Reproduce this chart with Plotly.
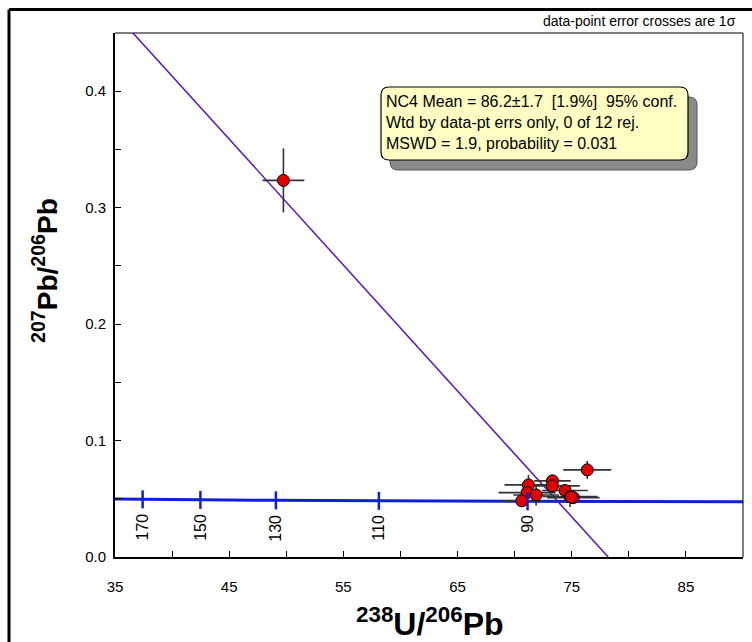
import plotly.graph_objects as go

# ---------------- data ----------------
u238_pb206 = [49.75, 76.36, 71.21, 73.31, 73.31, 71.09, 71.88, 70.62, 74.41, 74.85, 75.14, 74.95]
u238_err   = [1.83, 2.10, 2.10, 1.60, 2.40, 2.50, 2.00, 1.80, 2.00, 2.40, 2.30, 2.00]
pb207_pb206 = [0.3234, 0.0748, 0.0619, 0.0654, 0.0611, 0.0553, 0.0533, 0.0482, 0.0571, 0.0519, 0.0510, 0.0514]
pb207_err   = [0.0275, 0.0077, 0.0086, 0.0040, 0.0040, 0.0050, 0.0090, 0.0050, 0.0040, 0.0090, 0.0050, 0.0050]

# concordia curve (Tera-Wasserburg) points
concordia_x = [35.0, 37.42, 42.48, 49.09, 58.11, 71.13, 90.0]
concordia_y = [0.04971, 0.04947, 0.04904, 0.04863, 0.04822, 0.04781, 0.04743]
# age ticks on the concordia
tick_ages = [170, 150, 130, 110, 90]
tick_x = [37.42, 42.48, 49.09, 58.11, 71.13]
tick_y = [0.04947, 0.04904, 0.04863, 0.04822, 0.04781]

# regression (discordia) line end points
discordia_x = [36.57, 78.19]
discordia_y = [0.45, 0.0]

NB = "\u00a0"
info_lines = [
    f"NC4 Mean = 86.2±1.7 {NB}[1.9%] {NB}95% conf.",
    "Wtd by data-pt errs only, 0 of 12 rej.",
    "MSWD = 1.9, probability = 0.031",
]

# ---------------- figure ----------------
W, H = 752, 642
L, R, T, B = 115, 9, 33, 85
PW, PH = W - L - R, H - T - B

def px(x):
    return (x - L) / PW

def py(y):
    return (H - B - y) / PH

FONT = "Arial, Liberation Sans, sans-serif"
BLUE = "#1020D8"
PURPLE = "#5814BE"

fig = go.Figure()

fig.add_trace(go.Scatter(x=concordia_x, y=concordia_y, mode="lines",
                         line=dict(color=BLUE, width=3), hoverinfo="skip",
                         showlegend=False))
fig.add_trace(go.Scatter(x=discordia_x, y=discordia_y, mode="lines",
                         line=dict(color=PURPLE, width=1.5), hoverinfo="skip",
                         showlegend=False))
fig.add_trace(go.Scatter(
    x=u238_pb206, y=pb207_pb206, mode="markers",
    marker=dict(size=12, color="#E00000", line=dict(color="black", width=1)),
    error_x=dict(type="data", array=u238_err, color="#333333", thickness=1.6, width=0),
    error_y=dict(type="data", array=pb207_err, color="#333333", thickness=1.6, width=0),
    showlegend=False))

shapes = []
annotations = []

# concordia age ticks and labels
for a, x, y in zip(tick_ages, tick_x, tick_y):
    shapes.append(dict(type="line", xref="x", yref="y", ysizemode="pixel",
                       yanchor=y, x0=x, x1=x, y0=-9, y1=9,
                       line=dict(color=BLUE, width=2.5)))
    annotations.append(dict(x=x, y=y, xref="x", yref="y", text=str(a),
                            showarrow=False, textangle=-90, yanchor="top",
                            xanchor="center", yshift=-12,
                            font=dict(family=FONT, size=16, color="black")))

# plot frame (thin) on top/right
shapes.append(dict(type="line", xref="paper", yref="paper", x0=0, x1=1, y0=1, y1=1,
                   line=dict(color="black", width=1), layer="above"))
shapes.append(dict(type="line", xref="paper", yref="paper", x0=1, x1=1, y0=0, y1=1,
                   line=dict(color="black", width=1), layer="above"))

# outer thick frame: only its left and top edges fall inside the picture
shapes.append(dict(type="line", xref="paper", yref="paper",
                   x0=px(9), x1=px(760), y0=py(9.5), y1=py(9.5),
                   line=dict(color="black", width=3)))
shapes.append(dict(type="line", xref="paper", yref="paper",
                   x0=px(9), x1=px(9), y0=py(9.5), y1=py(660),
                   line=dict(color="black", width=3)))

# info box with shadow
def rounded(x0, y0, x1, y1, r):
    X0, X1 = px(x0), px(x1)
    Y0, Y1 = py(y0), py(y1)   # Y0 top, Y1 bottom
    rx, ry = r / PW, r / PH
    return (f"M {X0+rx},{Y0} L {X1-rx},{Y0} Q {X1},{Y0} {X1},{Y0-ry} "
            f"L {X1},{Y1+ry} Q {X1},{Y1} {X1-rx},{Y1} "
            f"L {X0+rx},{Y1} Q {X0},{Y1} {X0},{Y1+ry} "
            f"L {X0},{Y0-ry} Q {X0},{Y0} {X0+rx},{Y0} Z")

bx0, by0, bx1, by1 = 381, 87, 688, 160
shapes.append(dict(type="path", xref="paper", yref="paper",
                   path=rounded(bx0 + 9, by0 + 10, bx1 + 9, by1 + 10, 8),
                   fillcolor="#8A8A8A", line=dict(color="#555555", width=1),
                   layer="above"))
shapes.append(dict(type="path", xref="paper", yref="paper",
                   path=rounded(bx0, by0, bx1, by1, 8),
                   fillcolor="#FFFFC4", line=dict(color="black", width=1.2),
                   layer="above"))

for i, t in enumerate(info_lines):
    annotations.append(dict(x=px(bx0 + 3), y=py(102 + 20.7 * i), xref="paper", yref="paper",
                            text=t, showarrow=False, xanchor="left", yanchor="middle",
                            font=dict(family=FONT, size=16, color="black")))

annotations.append(dict(x=px(738), y=py(21), xref="paper", yref="paper",
                        text="data-point error crosses are 1σ", showarrow=False,
                        xanchor="right", yanchor="middle",
                        font=dict(family=FONT, size=14, color="black")))

# axis titles as annotations for precise placement
annotations.append(dict(x=px(45), y=py(271), xref="paper", yref="paper",
                        text="<b><sup>207</sup>Pb/<sup>206</sup>Pb</b>", showarrow=False,
                        textangle=-90, xanchor="center", yanchor="middle",
                        font=dict(family=FONT, size=28, color="black")))
annotations.append(dict(x=px(430), y=py(622), xref="paper", yref="paper",
                        text="<b><sup>238</sup>U/<sup>206</sup>Pb</b>", showarrow=False,
                        xanchor="center", yanchor="middle",
                        font=dict(family=FONT, size=32, color="black")))

fig.update_layout(
    width=W, height=H,
    margin=dict(l=L, r=R, t=T, b=B, pad=0),
    paper_bgcolor="white", plot_bgcolor="white",
    shapes=shapes, annotations=annotations,
    font=dict(family=FONT, color="black"),
    xaxis=dict(range=[35, 90], tick0=35, dtick=10, ticks="inside", ticklen=6,
               tickwidth=1.2, tickcolor="black",
               minor=dict(ticks="inside", ticklen=6, dtick=5, tickcolor="black", tickwidth=1.2),
               showgrid=False, zeroline=False, showline=True, linewidth=2,
               linecolor="black", ticklabelstandoff=15,
               tickfont=dict(family=FONT, size=15, color="black")),
    yaxis=dict(range=[0, 0.45], tick0=0, dtick=0.1, tickformat=".1f",
               ticks="inside", ticklen=6, tickwidth=1.2, tickcolor="black",
               minor=dict(ticks="inside", ticklen=6, dtick=0.05, tickcolor="black", tickwidth=1.2),
               showgrid=False, zeroline=False, showline=True, linewidth=2,
               linecolor="black", ticklabelstandoff=4,
               tickfont=dict(family=FONT, size=15, color="black")),
)

fig.write_html("out.html",
               config={"displayModeBar": False},
               post_script=("var s=document.createElement('style');"
                            "s.textContent='html,body{margin:0;padding:0;overflow:hidden}"
                            "::-webkit-scrollbar{display:none;width:0;height:0}';"
                            "document.head.appendChild(s);"))
